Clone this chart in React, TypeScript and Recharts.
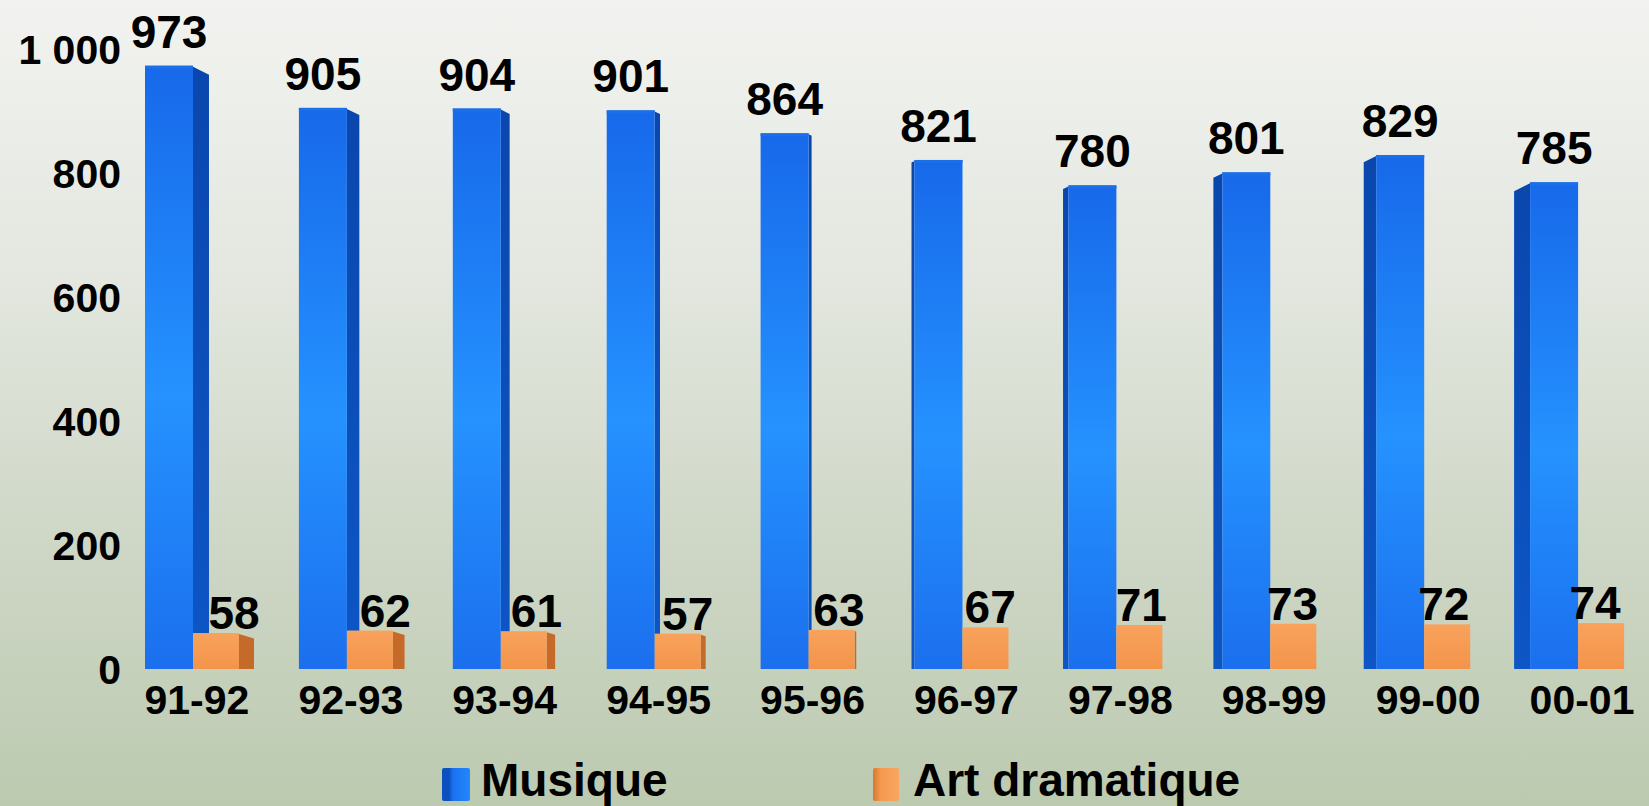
import React from 'react';
import { BarChart, Bar, XAxis, YAxis, LabelList, Legend } from 'recharts';

const categories = ['91-92', '92-93', '93-94', '94-95', '95-96', '96-97', '97-98', '98-99', '99-00', '00-01'];
const musique = [973, 905, 904, 901, 864, 821, 780, 801, 829, 785];
const artDramatique = [58, 62, 61, 57, 63, 67, 71, 73, 72, 74];
const yTicks = [0, 200, 400, 600, 800, 1000];
const seriesNames = ['Musique', 'Art dramatique'];

const data = categories.map((c, i) => ({ cat: c, musique: musique[i], art: artDramatique[i] }));

const FONT = '"Liberation Sans", Arial, Helvetica, sans-serif';
const CENTER = 884.5;
const HALF = 692;

const sideOf = (groupCenter: number) => {
  const t = Math.max(-1, Math.min(1, (groupCenter - CENTER) / HALF));
  return t;
};

const BlueShape = (props: any) => {
  const { x, y, width, height } = props;
  if (height <= 0) return null;
  const t = sideOf(x + width);
  const s = Math.max(3, Math.abs(t) * 16);
  let side = '';
  if (t < 0) {
    side = `${x + width},${y + 1} ${x + width + s},${y + 1 + s * 0.5} ${x + width + s},${y + height} ${x + width},${y + height}`;
  } else {
    side = `${x},${y + 1} ${x - s},${y + 1 + s * 0.5} ${x - s},${y + height} ${x},${y + height}`;
  }
  return (
    <g>
      <polygon points={side} fill="url(#blueSide)" />
      <rect x={x} y={y} width={width} height={height} fill="url(#blueFront)" />
      <rect x={x} y={y} width={width} height={3} fill="#1c6fe8" />
    </g>
  );
};

const OrangeShape = (props: any) => {
  const { x, y, width, height } = props;
  if (height <= 0) return null;
  const t = sideOf(x);
  const s = Math.abs(t) * 15;
  return (
    <g>
      {t < 0 && (
        <polygon
          points={`${x + width},${y + 1} ${x + width + s},${y + 1 + s * 0.3} ${x + width + s},${y + height} ${x + width},${y + height}`}
          fill="#c56a28"
        />
      )}
      <rect x={x} y={y} width={width} height={height} fill="url(#orangeFront)" />
    </g>
  );
};

const OrangeLabel = (props: any) => {
  const { x, y, width, value } = props;
  const t = sideOf(x);
  const dx = -t * 12 + 6;
  return (
    <text
      x={x + width / 2 + dx}
      y={y - 4}
      textAnchor="middle"
      fontFamily={FONT}
      fontWeight="bold"
      fontSize={46}
      fill="#000"
    >
      {value}
    </text>
  );
};

const renderLegend = () => (
  <div style={{ position: 'relative', width: 1649, height: 50, fontFamily: FONT, fontWeight: 'bold', fontSize: 46, lineHeight: '46px', color: '#000' }}>
    <div style={{ position: 'absolute', left: 442, top: 0, display: 'flex', alignItems: 'flex-start' }}>
      <div style={{ width: 28, height: 33, marginTop: 11, background: 'linear-gradient(90deg, #0c50c0 0%, #0c50c0 25%, #1a72f0 40%, #2288ff 100%)', borderRadius: 2 }} />
      <span style={{ marginLeft: 11 }}>{seriesNames[0]}</span>
    </div>
    <div style={{ position: 'absolute', left: 873, top: 0, display: 'flex', alignItems: 'flex-start' }}>
      <div style={{ width: 26, height: 33, marginTop: 11, background: 'linear-gradient(90deg, #d9772f 0%, #f59a50 30%, #f8a660 100%)', borderRadius: 2 }} />
      <span style={{ marginLeft: 14 }}>{seriesNames[1]}</span>
    </div>
  </div>
);

export default function App() {
  return (
    <div
      style={{
        position: 'absolute',
        left: 0,
        top: 0,
        width: 1649,
        height: 806,
        overflow: 'hidden',
        background: 'linear-gradient(180deg, #f2f3f0 0%, #e3e7df 35%, #d0d8c8 65%, #bccab0 100%)',
      }}
    >
      <BarChart
        width={1660}
        height={806}
        data={data}
        margin={{ top: 49, right: 6, bottom: 57, left: 0 }}
        barGap={0}
      >
        <defs>
          <linearGradient id="blueFront" x1="0" y1="0" x2="0" y2="1">
            <stop offset="0%" stopColor="#1769ea" />
            <stop offset="55%" stopColor="#2592ff" />
            <stop offset="100%" stopColor="#1b6fee" />
          </linearGradient>
          <linearGradient id="blueSide" x1="0" y1="0" x2="0" y2="1">
            <stop offset="0%" stopColor="#0a47ad" />
            <stop offset="100%" stopColor="#0d56c6" />
          </linearGradient>
          <linearGradient id="orangeFront" x1="0" y1="0" x2="0" y2="1">
            <stop offset="0%" stopColor="#f8a25c" />
            <stop offset="100%" stopColor="#f4944a" />
          </linearGradient>
        </defs>
        <XAxis
          dataKey="cat"
          height={30}
          axisLine={false}
          tickLine={false}
          tickSize={0}
          tickMargin={16}
          interval={0}
          tick={{ fontFamily: FONT, fontWeight: 'bold', fontSize: 41, fill: '#000', dx: 5 }}
        />
        <YAxis
          domain={[0, 1000]}
          ticks={yTicks}
          width={115}
          axisLine={false}
          tickLine={false}
          tickSize={0}
          tickMargin={0}
          interval={0}
          tickFormatter={(v: number) => (v >= 1000 ? `${Math.floor(v / 1000)} ${String(v % 1000).padStart(3, '0')}` : String(v))}
          tick={{ fontFamily: FONT, fontWeight: 'bold', fontSize: 41, fill: '#000', dx: 6 }}
        />
        <Legend content={renderLegend} wrapperStyle={{ position: 'absolute', left: 0, top: 757, width: 1649, height: 50 }} />
        <Bar dataKey="musique" name={seriesNames[0]} barSize={48} shape={<BlueShape />} isAnimationActive={false}>
          <LabelList dataKey="musique" position="top" offset={18} fontFamily={FONT} fontWeight="bold" fontSize={46} fill="#000" />
        </Bar>
        <Bar dataKey="art" name={seriesNames[1]} barSize={46} shape={<OrangeShape />} isAnimationActive={false}>
          <LabelList dataKey="art" content={<OrangeLabel />} />
        </Bar>
      </BarChart>
    </div>
  );
}
